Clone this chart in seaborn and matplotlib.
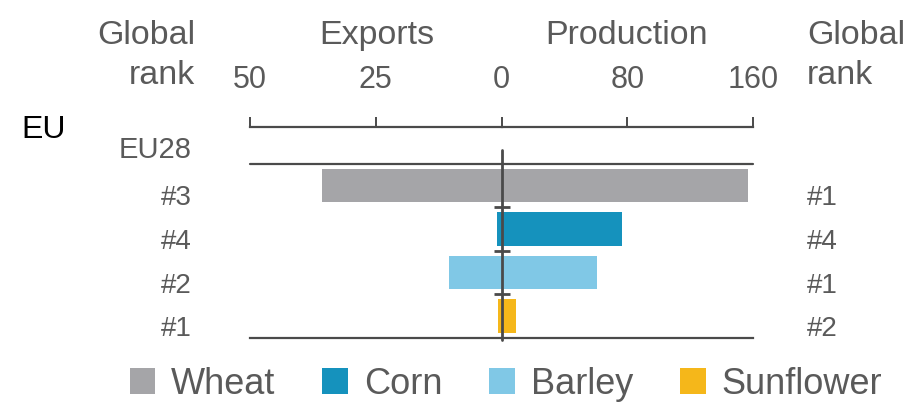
import matplotlib
matplotlib.use("Agg")
import matplotlib.pyplot as plt
from matplotlib.patches import Patch
import seaborn as sns
import pandas as pd

# EU28 crops: exports (left, million t) and production (right, million t)
crops = ["Wheat", "Corn", "Barley", "Sunflower"]
exports = [35.7, 0.9, 10.5, 0.7]
production = [156.8, 76.6, 60.7, 9.1]
export_rank = ["#3", "#4", "#2", "#1"]
production_rank = ["#1", "#4", "#1", "#2"]
colors = ["#a5a5a8", "#1592bd", "#80c8e6", "#f5b71a"]
export_ticks = [50, 25]
production_ticks = [0, 80, 160]
region = "EU28"

sns.set_theme(style="white")
plt.rcParams["font.family"] = ["Liberation Sans", "DejaVu Sans"]

TEXT = "#5a5a5a"
LINE = "#4a4a4a"
HEAD = 24.5

df = pd.DataFrame({"crop": crops, "exports": exports, "production": production})
palette = dict(zip(crops, colors))

W, H = 922, 405
fig = plt.figure(figsize=(W / 100, H / 100), dpi=100)
fig.patch.set_facecolor("white")


def fx(px):
    return px / W


def fy(py):
    return 1 - py / H


x0, xc, x1 = 250, 501.7, 753
ytop, ybot = 163.5, 338
ax_l = fig.add_axes([fx(x0), fy(ybot), (xc - x0) / W, (ybot - ytop) / H])
ax_r = fig.add_axes([fx(xc), fy(ybot), (x1 - xc) / W, (ybot - ytop) / H])

common = dict(data=df, y="crop", hue="crop", palette=palette, orient="h",
              width=0.77, legend=False, saturation=1, errorbar=None, linewidth=0)
sns.barplot(x="exports", ax=ax_l, **common)
sns.barplot(x="production", ax=ax_r, **common)

ax_l.set_xlim(50, 0)
ax_r.set_xlim(0, 160)
ax_l.set_xticks(export_ticks)
ax_r.set_xticks(production_ticks)

outward = 36.5 * 72 / 100
for ax in (ax_l, ax_r):
    ax.set_ylim(3.5, -0.5)
    ax.set_xlabel("")
    ax.set_ylabel("")
    ax.set_facecolor("none")
    ax.spines["left"].set_visible(False)
    ax.spines["right"].set_visible(False)
    ax.spines["top"].set_position(("outward", outward))
    for s in ("top", "bottom"):
        ax.spines[s].set_color(LINE)
        ax.spines[s].set_linewidth(1.6)
    ax.xaxis.set_ticks_position("top")
    ax.tick_params(axis="x", which="major", direction="out", length=7.5,
                   width=1.4, color=LINE, labelsize=22, labelcolor=TEXT,
                   pad=15.5, top=True, bottom=False, labeltop=True,
                   labelbottom=False)
    ax.axhline(-0.5, color=LINE, lw=1.6, clip_on=False, zorder=4)

# rank labels on either side
ax_l.set_yticks(range(len(crops)))
ax_l.set_yticklabels(export_rank)
ax_l.tick_params(axis="y", length=0, pad=42, labelsize=20, labelcolor=TEXT,
                 left=False, right=False, labelleft=True, labelright=False)
ax_r.yaxis.tick_right()
ax_r.set_yticks(range(len(crops)))
ax_r.set_yticklabels(production_rank)
ax_r.tick_params(axis="y", length=0, pad=39, labelsize=20, labelcolor=TEXT,
                 left=False, right=False, labelleft=False, labelright=True)
for lab in ax_l.get_yticklabels() + ax_r.get_yticklabels():
    lab.set_verticalalignment("top")

# centre line with small separators between rows
ax_r.axvline(0, ymin=-0.011, ymax=1.077, color=LINE, lw=2, clip_on=False, zorder=5)
ax_r.plot([0, 0, 0], [0.5, 1.5, 2.5], marker="_", ms=12, mew=2, ls="none",
          color=LINE, clip_on=False, zorder=5)

# headers
fig.text(fx(195), fy(44), "Global", ha="right", va="baseline", fontsize=HEAD, color=TEXT)
fig.text(fx(195), fy(84), "rank", ha="right", va="baseline", fontsize=HEAD, color=TEXT)
fig.text(fx(377), fy(44), "Exports", ha="center", va="baseline", fontsize=HEAD, color=TEXT)
fig.text(fx(627), fy(44), "Production", ha="center", va="baseline", fontsize=HEAD, color=TEXT)
fig.text(fx(807), fy(44), "Global", ha="left", va="baseline", fontsize=HEAD, color=TEXT)
fig.text(fx(807), fy(84), "rank", ha="left", va="baseline", fontsize=HEAD, color=TEXT)
fig.text(fx(21), fy(138), "EU", ha="left", va="baseline", fontsize=23, color="black")
fig.text(fx(192), fy(158), region, ha="right", va="baseline", fontsize=21, color=TEXT)

handles = [Patch(facecolor=c, edgecolor="none", label=n) for n, c in zip(crops, colors)]
fig.legend(handles=handles, loc="center", bbox_to_anchor=(fx(506), fy(384)),
           ncol=4, frameon=False, fontsize=26, handlelength=0.7, handleheight=0.7,
           handletextpad=0.45, columnspacing=1.3, labelcolor=TEXT)

fig.savefig("out.png", dpi=100, facecolor="white")
